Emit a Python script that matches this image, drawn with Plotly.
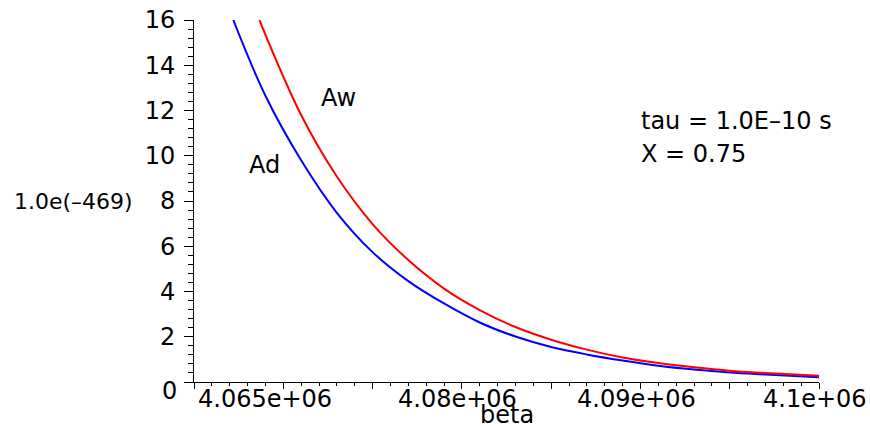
import plotly.graph_objects as go

# beta grid and scaled amplitudes (units of 1.0e(-469))
beta_d = [4067200, 4069000, 4071000, 4073000, 4075000, 4077000, 4079000, 4081000,
          4083000, 4085000, 4087000, 4089000, 4091000, 4093000, 4095000, 4097000,
          4100000]
Ad = [16.0, 12.65, 9.8, 7.48, 5.74, 4.46, 3.47, 2.63,
      2.01, 1.55, 1.22, 0.95, 0.72, 0.55, 0.42, 0.33,
      0.21]

beta_w = [4068660, 4071000, 4073000, 4075000, 4077000, 4079000, 4081000, 4083000,
          4085000, 4087000, 4089000, 4091000, 4093000, 4095000, 4097000, 4100000]
Aw = [16.0, 11.8, 9.08, 6.98, 5.39, 4.13, 3.18, 2.43,
      1.87, 1.43, 1.08, 0.835, 0.65, 0.50, 0.40, 0.28]

x_major = [4065000, 4070000, 4075000, 4080000, 4085000, 4090000, 4095000, 4100000]
x_labels = {4065000: "4.065e+06", 4080000: "4.08e+06", 4090000: "4.09e+06", 4100000: "4.1e+06"}
y_major = [0, 2, 4, 6, 8, 10, 12, 14, 16]
y_text = ["", "2", "4", "6", "8", "10", "12", "14", "16"]

FONT = "DejaVu Sans"

fig = go.Figure()
fig.add_trace(go.Scatter(x=beta_d, y=Ad, mode="lines", line=dict(color="#0000ff", width=2, shape="spline"),
                         name="Ad", showlegend=False))
fig.add_trace(go.Scatter(x=beta_w, y=Aw, mode="lines", line=dict(color="#ff0000", width=2, shape="spline"),
                         name="Aw", showlegend=False))

fig.update_layout(
    width=870, height=428, autosize=False,
    margin=dict(l=194, r=51, t=20, b=46, pad=0),
    paper_bgcolor="white", plot_bgcolor="white",
    font=dict(family=FONT, size=24, color="black"),
    xaxis=dict(range=[4065000, 4100000], showgrid=False, zeroline=False, automargin=False,
               showline=True, linecolor="black", linewidth=1,
               tickmode="array", tickvals=x_major, ticktext=[""] * len(x_major),
               ticks="outside", ticklen=6, tickcolor="black", tickwidth=1,
               minor=dict(tickmode="linear", tick0=4065000, dtick=1000, ticks="outside",
                          ticklen=3, tickcolor="black", tickwidth=1)),
    yaxis=dict(range=[0, 16], showgrid=False, zeroline=False, automargin=False,
               showline=True, linecolor="black", linewidth=1,
               tickmode="array", tickvals=y_major, ticktext=y_text,
               ticks="outside", ticklen=9, tickcolor="black", tickwidth=1,
               ticklabelstandoff=4,
               minor=dict(tickmode="linear", tick0=0, dtick=0.4, ticks="outside",
                          ticklen=5, tickcolor="black", tickwidth=1)),
)

ann = [
    dict(text="0", xref="paper", yref="y", x=-0.024, y=0, xanchor="right", yanchor="middle", yshift=-9),
    dict(text="beta", xref="paper", yref="paper", x=0.5, y=-0.091, xanchor="center", yanchor="middle"),
    dict(text="1.0e(\u2013469)", xref="paper", yref="y", x=-0.291, y=8, xanchor="left", yanchor="middle",
         font=dict(size=22)),
    dict(text="Aw", xref="x", yref="y", x=4073064, y=12.57, xanchor="center", yanchor="middle"),
    dict(text="Ad", xref="x", yref="y", x=4068948, y=9.57, xanchor="center", yanchor="middle"),
    dict(text="tau = 1.0E\u201310 s", xref="paper", yref="paper", x=0.712, y=0.722,
         xanchor="left", yanchor="middle"),
    dict(text="X = 0.75", xref="paper", yref="paper", x=0.712, y=0.630,
         xanchor="left", yanchor="middle"),
]
# x tick labels; the first one sits right of its tick so it clears the y axis
for xv, label in x_labels.items():
    if xv == x_major[0]:
        ann.append(dict(text=label, xref="x", yref="paper", x=xv, y=0, xanchor="left",
                        yanchor="middle", xshift=2, yshift=-17))
    else:
        ann.append(dict(text=label, xref="x", yref="paper", x=xv, y=0, xanchor="center",
                        yanchor="middle", xshift=-4, yshift=-17))

for a in ann:
    a.setdefault("showarrow", False)
    a.setdefault("font", dict(size=24))
    a["font"].update(family=FONT, color="black")
    fig.add_annotation(**a)

fig.write_html("out.html")
